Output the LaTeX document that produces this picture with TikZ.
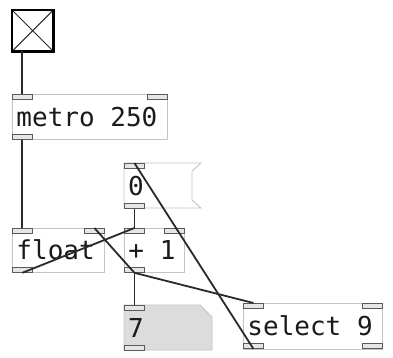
\documentclass[tikz,border=0pt]{standalone}
\usepackage{fontspec}
\newfontfamily\pdfont{DejaVu Sans Mono}
\newcommand\pdsp{\phantom{0}}
\definecolor{boxgray}{HTML}{C4C4C4}
\definecolor{portdark}{HTML}{5A5A5A}
\definecolor{portfill}{HTML}{E6E6E6}
\definecolor{wiredark}{HTML}{2A2A2A}
\definecolor{numfill}{HTML}{DCDCDC}
\definecolor{txt}{HTML}{1A1A1A}
\tikzset{
  pdtext/.style={font=\pdfont\fontsize{26}{26}\selectfont, text=txt, text height=19pt, text depth=0pt, align=left},
  objbox/.style={pdtext, draw=boxgray, line width=0.9pt, anchor=north west, inner xsep=4pt, inner ysep=0pt},
  port/.style={draw=portdark, fill=portfill, minimum width=20pt, minimum height=5pt, inner sep=0pt, line width=0.8pt, anchor=north west},
  wire/.style={draw=wiredark, line width=1.8pt},
  slot/.style={anchor=north west, inner sep=0pt, draw=none}
}
\begin{document}
\begin{tikzpicture}[x=1pt,y=-1pt]
\useasboundingbox (0,0) rectangle (393,358);
\fill[white] (0,0) rectangle (393,358);

% toggle
\node[slot, minimum width=41pt, minimum height=41pt] (tog) at (12,10) {};
\draw[wiredark, line width=1pt] (tog.north west) -- (tog.south east) (tog.north east) -- (tog.south west);
\draw[black, line width=2.6pt] (tog.north west) rectangle (tog.south east);
\coordinate (tog-o) at (22,51);

% metro 250
\node[objbox, minimum width=155pt, minimum height=45pt, text width=147pt] (metro) at (12,94) {metro\pdsp 250};
% float
\node[objbox, minimum width=92pt, minimum height=44pt, text width=84pt] (float) at (12,228) {float};
% + 1
\node[objbox, minimum width=60pt, minimum height=44pt, text width=52pt] (plus) at (124,228) {+\pdsp 1};
% select 9
\node[objbox, minimum width=139pt, minimum height=46pt, text width=131pt] (sel) at (243,303) {select\pdsp 9};

% message box 0
\draw[boxgray, line width=0.9pt] (124,163) -- (201,163) -- (192,171) -- (192,200) -- (201,208) -- (124,208) -- cycle;
\node[slot, pdtext, minimum width=76pt, minimum height=45pt, inner xsep=4pt, text width=68pt] (msg) at (124,163) {0};

% number box 7
\draw[boxgray, fill=numfill, line width=0.9pt] (124,305) -- (200,305) -- (212,317) -- (212,350) -- (124,350) -- cycle;
\node[slot, pdtext, minimum width=88pt, minimum height=45pt, inner xsep=4pt, text width=80pt] (num) at (124,305) {7};

% ports
\node[port] (metro-i0) at (12,94) {};
\node[port] (metro-i1) at (147,94) {};
\node[port] (metro-o0) at (12,134) {};
\node[port] (float-i0) at (12,228) {};
\node[port] (float-i1) at (84,228) {};
\node[port] (float-o0) at (12,267) {};
\node[port] (plus-i0) at (124,228) {};
\node[port] (plus-i1) at (164,228) {};
\node[port] (plus-o0) at (124,267) {};
\node[port] (msg-i0) at (124,163) {};
\node[port] (msg-o0) at (124,203) {};
\node[port] (num-i0) at (124,305) {};
\node[port] (num-o0) at (124,345) {};
\node[port] (sel-i0) at (243,303) {};
\node[port] (sel-i1) at (362,303) {};
\node[port] (sel-o0) at (243,343) {};
\node[port] (sel-o1) at (362,343) {};

% wires
\draw[wire, line width=2.2pt] (tog-o) -- (metro-i0.north -| tog-o);
\draw[wire, line width=2.2pt] (metro-o0.south -| tog-o) -- (float-i0.north -| tog-o);
\draw[wire] (float-o0.south) -- (plus-i0.north);
\draw[wire] (plus-o0.south) -- (float-i1.north);
\draw[wire] (msg-o0.south) -- (plus-i0.north);
\draw[wire] (plus-o0.south) -- (num-i0.north);
\draw[wire] (plus-o0.south) -- (sel-i0.north);
\draw[wire] (sel-o0.south) -- (msg-i0.north);
\end{tikzpicture}
\end{document}
